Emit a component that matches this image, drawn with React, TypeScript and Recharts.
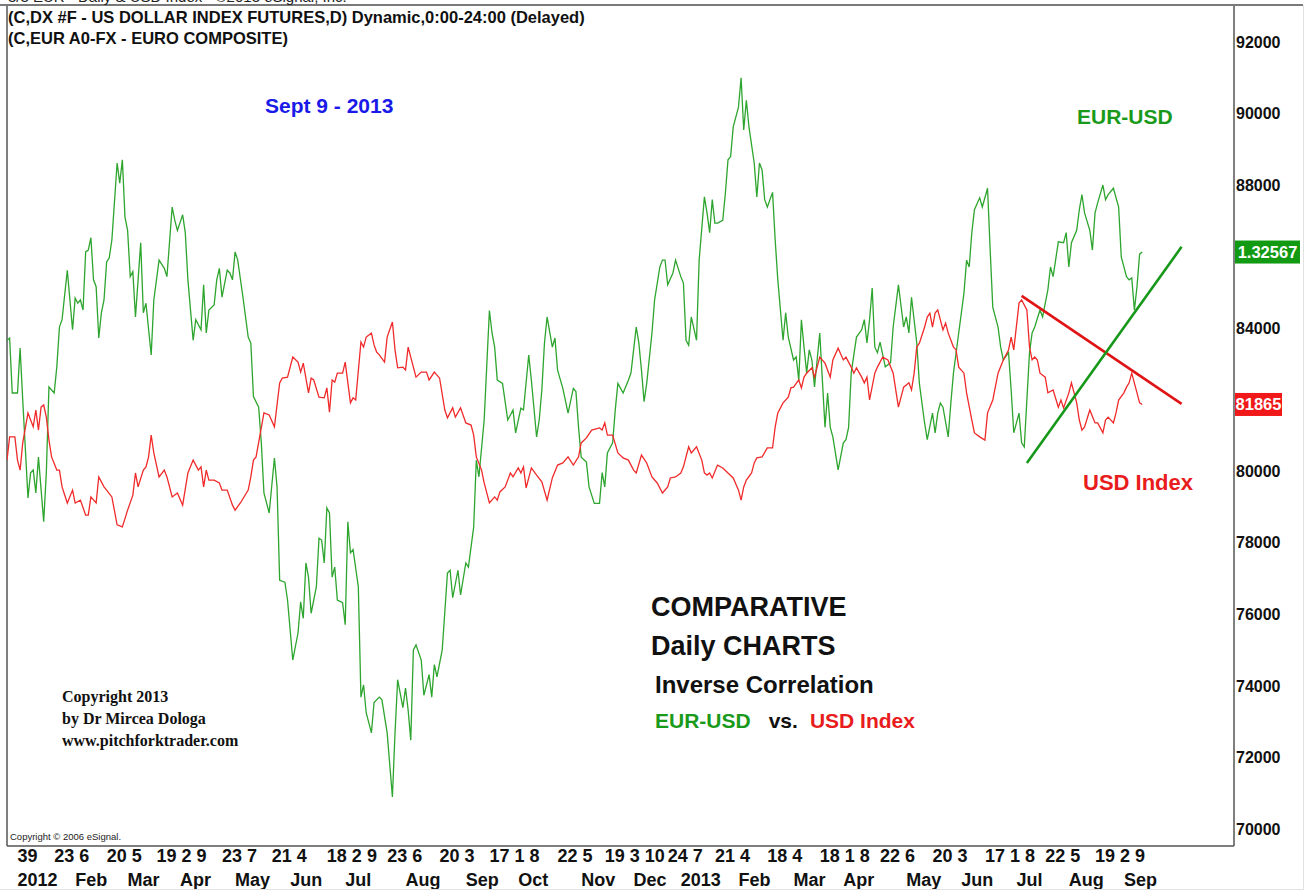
import React from "react";
import { ComposedChart, Line, XAxis, YAxis, ReferenceLine } from "recharts";

// EUR-USD close, x = trading session counted from the first bar (Jan 2012)
const eurDays = [
  0, 1, 2, 4, 5, 6, 8, 9, 10, 11, 12, 14, 15, 16, 18, 19, 20, 21, 23, 25, 26, 27, 28, 29, 30, 31, 32, 33, 34, 35,
  36, 37, 38, 39, 40, 42, 43, 44, 45, 46, 47, 48, 49, 50, 51, 52, 53, 55, 56, 58, 60, 61, 63, 64, 65, 67, 68, 69,
  71, 72, 74, 75, 76, 77, 79, 80, 81, 82, 84, 85, 86, 87, 88, 90, 92, 93, 94, 96, 97, 98, 100, 102, 103, 104, 106,
  107, 109, 111, 112, 113, 114, 115, 116, 118, 119, 120, 121, 122, 123, 124, 125, 126, 128, 129, 130, 131, 132, 134,
  135, 136, 137, 139, 140, 142, 143, 145, 147, 148, 149, 151, 152, 153, 154, 155, 156, 158, 159, 161, 162, 163, 164,
  166, 168, 169, 170, 172, 173, 175, 176, 177, 178, 179, 180, 182, 184, 185, 186, 187, 189, 191, 193, 194, 196, 197,
  199, 200, 202, 203, 204, 205, 206, 208, 209, 210, 212, 214, 216, 217, 218, 219, 221, 222, 224, 226, 227, 228, 229,
  231, 232, 233, 235, 237, 238, 239, 240, 241, 242, 243, 244, 246, 247, 249, 250, 251, 252, 254, 255, 257, 258, 259,
  260, 261, 263, 264, 266, 267, 268, 269, 270, 271, 273, 274, 275, 276, 277, 279, 280, 281, 282, 283, 285, 286, 287,
  288, 289, 290, 292, 293, 294, 296, 297, 298, 300, 301, 302, 303, 304, 305, 306, 307, 308, 309, 310, 311, 312, 313,
  314, 315, 317, 319, 320, 321, 322, 324, 326, 327, 328, 329, 330, 331, 332, 333, 335, 337, 338, 340, 342, 343, 344,
  345, 347, 348, 350, 351, 353, 354, 355, 356, 357, 359, 360, 361, 363, 365, 366, 367, 368, 369, 371, 372, 374, 375,
  376, 378, 379, 380, 382, 383, 384, 386, 387, 388, 389, 390, 391, 392, 394, 395, 397, 398, 399, 401, 403, 404, 405,
  406, 408, 409, 410, 411, 413, 414, 415, 416, 418, 419, 420, 422, 424, 425, 427, 428, 429, 430, 431, 432, 433,
];
const eurClose = [
  1.3064, 1.3069, 1.2949, 1.2949, 1.3047, 1.2934, 1.272, 1.2775, 1.2781, 1.2731, 1.2809, 1.2668, 1.2775, 1.2962,
  1.2949, 1.3006, 1.3093, 1.3109, 1.3217, 1.3087, 1.3156, 1.3145, 1.3152, 1.313, 1.3257, 1.3261, 1.3288, 1.3196,
  1.3181, 1.3069, 1.3124, 1.3152, 1.3235, 1.3244, 1.3283, 1.3451, 1.3407, 1.3458, 1.3333, 1.3304, 1.3203, 1.3214,
  1.3115, 1.3196, 1.3277, 1.3124, 1.3145, 1.3032, 1.3152, 1.3239, 1.3221, 1.3203, 1.3355, 1.3326, 1.3304, 1.3338,
  1.3299, 1.3196, 1.3064, 1.3109, 1.3087, 1.3185, 1.308, 1.313, 1.3141, 1.3196, 1.3221, 1.3158, 1.3217, 1.3211,
  1.3196, 1.3257, 1.3239, 1.3158, 1.3071, 1.3058, 1.2941, 1.2918, 1.284, 1.2731, 1.2687, 1.2807, 1.2744, 1.254,
  1.2536, 1.2497, 1.2366, 1.2425, 1.2493, 1.2457, 1.2578, 1.2547, 1.2468, 1.2526, 1.2632, 1.2628, 1.2578, 1.2698,
  1.2687, 1.2547, 1.2569, 1.2497, 1.2491, 1.2443, 1.2668, 1.26, 1.2607, 1.2526, 1.2285, 1.2312, 1.2251, 1.2207,
  1.2273, 1.2285, 1.2279, 1.2207, 1.2067, 1.2207, 1.2323, 1.2262, 1.2305, 1.2257, 1.2191, 1.2388, 1.2399, 1.2366,
  1.2289, 1.2334, 1.2285, 1.2356, 1.2329, 1.2388, 1.2556, 1.2562, 1.2502, 1.2562, 1.2508, 1.2578, 1.2569, 1.2613,
  1.2656, 1.2802, 1.2766, 1.289, 1.3129, 1.308, 1.3049, 1.2977, 1.297, 1.289, 1.2912, 1.2862, 1.2916, 1.2912,
  1.3032, 1.2977, 1.2853, 1.289, 1.2956, 1.3058, 1.3115, 1.3049, 1.3069, 1.2999, 1.2959, 1.2905, 1.2959, 1.2952,
  1.2874, 1.2809, 1.2798, 1.2744, 1.2708, 1.2708, 1.2775, 1.2744, 1.2818, 1.284, 1.2912, 1.297, 1.2949, 1.2977,
  1.2993, 1.3043, 1.3093, 1.3058, 1.2999, 1.293, 1.297, 1.308, 1.3152, 1.3224, 1.3239, 1.3239, 1.3185, 1.3211,
  1.3239, 1.3203, 1.3189, 1.3064, 1.3053, 1.3115, 1.3064, 1.3239, 1.3377, 1.3342, 1.3299, 1.3371, 1.332, 1.332,
  1.3326, 1.3385, 1.3458, 1.3465, 1.353, 1.3573, 1.3637, 1.3523, 1.3588, 1.353, 1.3451, 1.3377, 1.3451, 1.3436,
  1.3371, 1.3355, 1.3387, 1.3283, 1.3196, 1.3064, 1.3124, 1.3071, 1.3021, 1.3028, 1.2977, 1.3109, 1.3049, 1.2993,
  1.3043, 1.3021, 1.2962, 1.3021, 1.308, 1.2977, 1.2874, 1.2949, 1.2874, 1.2853, 1.2781, 1.284, 1.2847, 1.2874,
  1.2993, 1.3071, 1.3087, 1.3109, 1.3058, 1.3109, 1.3178, 1.3049, 1.3037, 1.306, 1.3006, 1.3015, 1.3093, 1.3185,
  1.3093, 1.3115, 1.308, 1.3158, 1.3058, 1.297, 1.2883, 1.2847, 1.2905, 1.2862, 1.2905, 1.2927, 1.2918, 1.2853,
  1.2927, 1.2993, 1.308, 1.3167, 1.3239, 1.3224, 1.3299, 1.3349, 1.3375, 1.3355, 1.3396, 1.3261, 1.3136, 1.3093,
  1.3049, 1.3021, 1.3037, 1.2956, 1.2862, 1.2905, 1.284, 1.2831, 1.2934, 1.3037, 1.308, 1.3093, 1.313, 1.3115,
  1.3174, 1.3224, 1.3203, 1.3279, 1.3277, 1.3299, 1.3224, 1.3277, 1.3304, 1.3349, 1.3382, 1.3342, 1.3304, 1.3261,
  1.3342, 1.3364, 1.3403, 1.3371, 1.3382, 1.3396, 1.3355, 1.3246, 1.3203, 1.3196, 1.32, 1.313, 1.3181, 1.3252,
  1.32567,
];

// US Dollar Index futures close (x1000, as on the price scale)
const dxDays = [
  0, 1, 3, 4, 5, 6, 8, 9, 10, 11, 12, 13, 14, 15, 16, 17, 19, 20, 21, 23, 25, 26, 28, 30, 31, 32, 34, 35, 37, 38,
  40, 42, 44, 46, 48, 49, 50, 52, 53, 54, 55, 56, 58, 60, 61, 63, 65, 67, 69, 71, 73, 74, 75, 76, 77, 79, 81, 82,
  84, 86, 87, 89, 92, 93, 94, 95, 98, 100, 102, 104, 105, 107, 109, 111, 112, 113, 115, 116, 117, 119, 121, 122,
  123, 124, 125, 126, 128, 129, 131, 132, 133, 135, 136, 137, 139, 140, 141, 142, 144, 145, 147, 148, 149, 151,
  152, 153, 155, 156, 158, 160, 161, 163, 165, 167, 168, 170, 171, 173, 175, 177, 178, 179, 181, 182, 184, 186,
  187, 188, 190, 192, 193, 195, 196, 197, 198, 200, 202, 204, 206, 208, 210, 212, 214, 216, 218, 219, 221, 223,
  226, 227, 228, 229, 231, 233, 235, 237, 239, 240, 242, 244, 246, 248, 250, 252, 253, 255, 257, 258, 260, 261,
  263, 265, 266, 267, 268, 269, 271, 273, 275, 277, 279, 280, 281, 282, 284, 285, 286, 288, 290, 292, 293, 294,
  296, 298, 299, 300, 302, 303, 304, 305, 307, 308, 310, 312, 314, 315, 317, 319, 320, 322, 323, 324, 326, 327,
  328, 329, 331, 332, 334, 336, 338, 340, 342, 344, 345, 346, 347, 348, 350, 351, 352, 353, 354, 355, 357, 358,
  359, 361, 362, 363, 365, 366, 368, 369, 371, 373, 374, 376, 378, 380, 382, 383, 384, 386, 387, 389, 390, 391,
  392, 393, 394, 396, 397, 399, 401, 402, 403, 405, 406, 408, 409, 410, 411, 413, 415, 416, 418, 419, 420, 422,
  423, 424, 426, 427, 428, 429, 431, 432, 433,
];
const dxClose = [
  80310, 80960, 80960, 80310, 80030, 80790, 81630, 81430, 81240, 81710, 81150, 81790, 81850, 81510, 80870, 80400,
  80030, 80030, 79560, 79110, 79470, 79110, 79190, 78770, 78770, 79280, 79110, 79840, 79560, 79470, 79280, 78500,
  78440, 78910, 79330, 79950, 79560, 80030, 80120, 80400, 81010, 80510, 79840, 80030, 79840, 79280, 79390, 79050,
  79950, 80310, 80030, 80120, 79560, 80030, 79750, 79750, 79670, 79470, 79470, 79050, 78910, 79110, 79470, 79840,
  80310, 80400, 81630, 81570, 81240, 82470, 82600, 82630, 83190, 83050, 82770, 83020, 82190, 82600, 82550, 82070,
  82050, 82330, 81650, 82550, 82490, 82740, 82740, 83050, 81910, 82050, 81990, 83610, 83470, 83750, 83860, 83530,
  83330, 83250, 83050, 83750, 84170, 83390, 82890, 82910, 82830, 83470, 82910, 82630, 82770, 82770, 82550, 82770,
  82600, 81710, 81490, 81770, 81510, 81770, 81350, 81290, 81010, 80400, 80030, 79670, 79110, 79280, 79190, 79420,
  79560, 79950, 79840, 80090, 79950, 80120, 79530, 80090, 79890, 79700, 79190, 79810, 80170, 80230, 80400, 80170,
  80400, 80790, 80930, 81150, 81210, 81150, 81350, 81010, 81010, 80510, 80370, 80310, 80030, 79950, 80450, 80230,
  79840, 79670, 79390, 79560, 79810, 79840, 79950, 80120, 80680, 80510, 80680, 80310, 79950, 79890, 79950, 79810,
  80170, 80090, 79950, 79810, 79470, 79190, 79560, 79750, 79950, 80230, 80370, 80400, 80650, 80650, 81240, 81630,
  81910, 82070, 82330, 82350, 82550, 82330, 82630, 82740, 82890, 82630, 83190, 83020, 82630, 83110, 83440, 83110,
  83190, 82910, 82740, 82890, 82630, 82470, 82630, 81990, 82740, 82910, 83190, 83110, 82740, 81790, 82350, 82470,
  82270, 82740, 83470, 83580, 84030, 84310, 84420, 84030, 84420, 84510, 83950, 84140, 83860, 83470, 83390, 82910,
  82740, 82190, 81430, 81070, 80960, 80870, 81630, 81990, 82740, 83110, 83390, 83750, 83390, 84700, 84790, 84510,
  83470, 83110, 83190, 83110, 82740, 82630, 82190, 82270, 81790, 81990, 81770, 82190, 82470, 81910, 81430, 81150,
  81240, 81710, 81350, 81350, 81070, 81430, 81510, 81350, 81630, 81990, 82190, 82350, 82470, 82740, 82190, 81910,
  81865,
];

// hand-drawn trend lines (session, value)
const dxTrendDays = [387, 448];
const dxTrendValues = [84900, 81880];
const eurTrendDays = [389, 448];
const eurTrendValues = [1.2796, 1.3268];

// date scale: biweekly day numbers (upper row) and months (lower row)
const dayTicks = [4, 18, 38, 57, 82, 101, 122, 145, 165, 184, 210, 228, 252, 270, 290, 310, 333, 353, 373, 396, 415];
const dayLabels = [
  "39", "23 6", "20 5", "19 2 9", "23 7", "21 4", "18 2 9", "23 6", "20 3", "17 1 8", "22 5",
  "19 3 10", "24 7", "21 4", "18 4", "18 1 8", "22 6", "20 3", "17 1 8", "22 5", "19 2 9",
];
const monthTicks = [4, 26, 46, 66, 87, 108, 129, 152, 175, 195, 219, 239, 257, 279, 300, 319, 343, 364, 385, 405, 426];
const monthLabels = [
  "2012", "Feb", "Mar", "Apr", "May", "Jun", "Jul", "Aug", "Sep", "Oct", "Nov",
  "Dec", "2013", "Feb", "Mar", "Apr", "May", "Jun", "Jul", "Aug", "Sep",
];

const priceTicks = [70000, 72000, 74000, 76000, 78000, 80000, 84000, 88000, 90000, 92000];
const dxLast = 81865;
const eurLast = 1.32567;

const SANS = "'Liberation Sans', Arial, Helvetica, sans-serif";
const SERIF = "'Liberation Serif', 'Times New Roman', serif";
const GREEN = "#2ea52e";
const RED = "#f02a2a";

const eurData = eurDays.map((d, i) => ({ d, v: eurClose[i] }));
const dxData = dxDays.map((d, i) => ({ d, v: dxClose[i] }));
const dxTrend = dxTrendDays.map((d, i) => ({ d, v: dxTrendValues[i] }));
const eurTrend = eurTrendDays.map((d, i) => ({ d, v: eurTrendValues[i] }));

const dateText = new Map<number, { top?: string; bottom?: string }>();
dayTicks.forEach((d, i) => dateText.set(d, { ...dateText.get(d), top: dayLabels[i] }));
monthTicks.forEach((d, i) => dateText.set(d, { ...dateText.get(d), bottom: monthLabels[i] }));
const dateTicks = [...dateText.keys()].sort((a, b) => a - b);

function DateTick(props: any) {
  const { x, y, payload } = props;
  const t = dateText.get(payload.value) || {};
  const style = { fontFamily: SANS, fontWeight: "bold" as const, fontSize: 18, fill: "#111" };
  return (
    <g>
      {t.top && (
        <text x={x} y={y + 16} textAnchor="start" style={style}>
          {t.top}
        </text>
      )}
      {t.bottom && (
        <text x={x} y={y + 40} textAnchor="start" style={style}>
          {t.bottom}
        </text>
      )}
    </g>
  );
}

function PriceTick(props: any) {
  const { x, y, payload } = props;
  return (
    <text x={x + 2} y={y} dy="0.36em" textAnchor="start" fontFamily={SANS} fontWeight="bold" fontSize={16} fill="#111">
      {payload.value}
    </text>
  );
}

function ValueTag(props: any) {
  const { viewBox, text, fill, boxWidth } = props;
  if (!viewBox) return null;
  const x = viewBox.x + viewBox.width + 1;
  const y = viewBox.y;
  return (
    <g>
      <rect x={x} y={y - 11.5} width={boxWidth} height={23} fill={fill} />
      <text x={x + boxWidth / 2} y={y} dy="0.36em" textAnchor="middle" fontFamily={SANS} fontWeight="bold" fontSize={16.5} fill="#fff">
        {text}
      </text>
    </g>
  );
}

function Note(props: { left: number; mid: number; size: number; color?: string; family?: string; weight?: string; children: React.ReactNode }) {
  const { left, mid, size, color = "#111", family = SANS, weight = "bold", children } = props;
  return (
    <div
      style={{
        position: "absolute",
        left,
        top: mid - size * 0.59,
        fontSize: size,
        lineHeight: `${size * 1.2}px`,
        fontFamily: family,
        fontWeight: weight as any,
        color,
        whiteSpace: "nowrap",
      }}
    >
      {children}
    </div>
  );
}

export default function App() {
  return (
    <div style={{ position: "relative", width: 1314, height: 893, overflow: "hidden", background: "#fff" }}>
      <style>{`body{margin:0}`}</style>
      <ComposedChart width={1314} height={893} margin={{ top: 5, right: 0, bottom: 0, left: 7 }}>
        <XAxis
          dataKey="d"
          type="number"
          domain={[0, 468]}
          allowDataOverflow
          ticks={dateTicks}
          interval={0}
          tick={<DateTick />}
          tickLine={false}
          tickSize={0}
          tickMargin={0}
          height={47}
          axisLine={{ stroke: "#555", strokeWidth: 1.5 }}
        />
        <YAxis
          yAxisId="dx"
          orientation="right"
          width={80}
          type="number"
          domain={[69520, 93034]}
          allowDataOverflow
          ticks={priceTicks}
          interval={0}
          tick={<PriceTick />}
          tickLine={false}
          tickSize={0}
          tickMargin={0}
          axisLine={{ stroke: "#555", strokeWidth: 1.5 }}
        />
        <YAxis yAxisId="eur" hide type="number" domain={[1.196, 1.3796]} allowDataOverflow />
        <ReferenceLine x={0} yAxisId="dx" stroke="#555" strokeWidth={1.5} />
        <Line
          yAxisId="eur"
          data={eurData}
          dataKey="v"
          type="linear"
          stroke={GREEN}
          strokeWidth={1.3}
          dot={false}
          isAnimationActive={false}
        />
        <Line
          yAxisId="dx"
          data={dxData}
          dataKey="v"
          type="linear"
          stroke={RED}
          strokeWidth={1.3}
          dot={false}
          isAnimationActive={false}
        />
        <Line
          yAxisId="dx"
          data={dxTrend}
          dataKey="v"
          type="linear"
          stroke="#e01414"
          strokeWidth={2.6}
          dot={false}
          isAnimationActive={false}
        />
        <Line
          yAxisId="eur"
          data={eurTrend}
          dataKey="v"
          type="linear"
          stroke="#17981a"
          strokeWidth={2.6}
          dot={false}
          isAnimationActive={false}
        />
        <ReferenceLine
          yAxisId="eur"
          y={eurLast}
          stroke="none"
          label={<ValueTag text={eurLast.toFixed(5)} fill="#129a12" boxWidth={65} />}
        />
        <ReferenceLine
          yAxisId="dx"
          y={dxLast}
          stroke="none"
          label={<ValueTag text={String(dxLast)} fill="#f01818" boxWidth={47} />}
        />
      </ComposedChart>

      {/* frame pieces outside the plot */}
      <div style={{ position: "absolute", left: 0, top: 4, width: 1303, height: 2, background: "#7a7a7a" }} />
      <div style={{ position: "absolute", left: 1303, top: 5, width: 1, height: 885, background: "#e2e2e2" }} />
      <div style={{ position: "absolute", left: 0, top: 889, width: 1304, height: 1, background: "#e2e2e2" }} />

      <Note left={8} mid={-3} size={15} weight="normal" color="#222">
        3/3 EUR - Daily &amp; USD Index - ©2013 eSignal, Inc.
      </Note>
      <Note left={8} mid={18} size={16.5}>
        (C,DX #F - US DOLLAR INDEX FUTURES,D) Dynamic,0:00-24:00 (Delayed)
      </Note>
      <Note left={8} mid={39} size={16.5}>
        (C,EUR A0-FX - EURO COMPOSITE)
      </Note>

      <Note left={265} mid={105} size={21} color="#1a1ae8">
        Sept 9 - 2013
      </Note>
      <Note left={1077} mid={116} size={21} color="#1a9a1a">
        EUR-USD
      </Note>
      <Note left={1083} mid={483} size={22} color="#e81c1c">
        USD Index
      </Note>

      <Note left={651} mid={607} size={27}>
        COMPARATIVE
      </Note>
      <Note left={651} mid={646} size={27}>
        Daily CHARTS
      </Note>
      <Note left={655} mid={685} size={24}>
        Inverse Correlation
      </Note>
      <Note left={655} mid={720} size={21}>
        <span style={{ color: "#1a9a1a" }}>EUR-USD</span>
        <span style={{ marginLeft: 18 }}>vs.</span>
        <span style={{ marginLeft: 12, color: "#e81c1c" }}>USD Index</span>
      </Note>

      <Note left={62} mid={696} size={16} family={SERIF}>
        Copyright 2013
      </Note>
      <Note left={62} mid={718} size={16} family={SERIF}>
        by Dr Mircea Dologa
      </Note>
      <Note left={62} mid={740} size={16} family={SERIF}>
        www.pitchforktrader.com
      </Note>
      <Note left={10} mid={837} size={9.5} weight="normal" color="#222">
        Copyright © 2006 eSignal.
      </Note>
    </div>
  );
}
